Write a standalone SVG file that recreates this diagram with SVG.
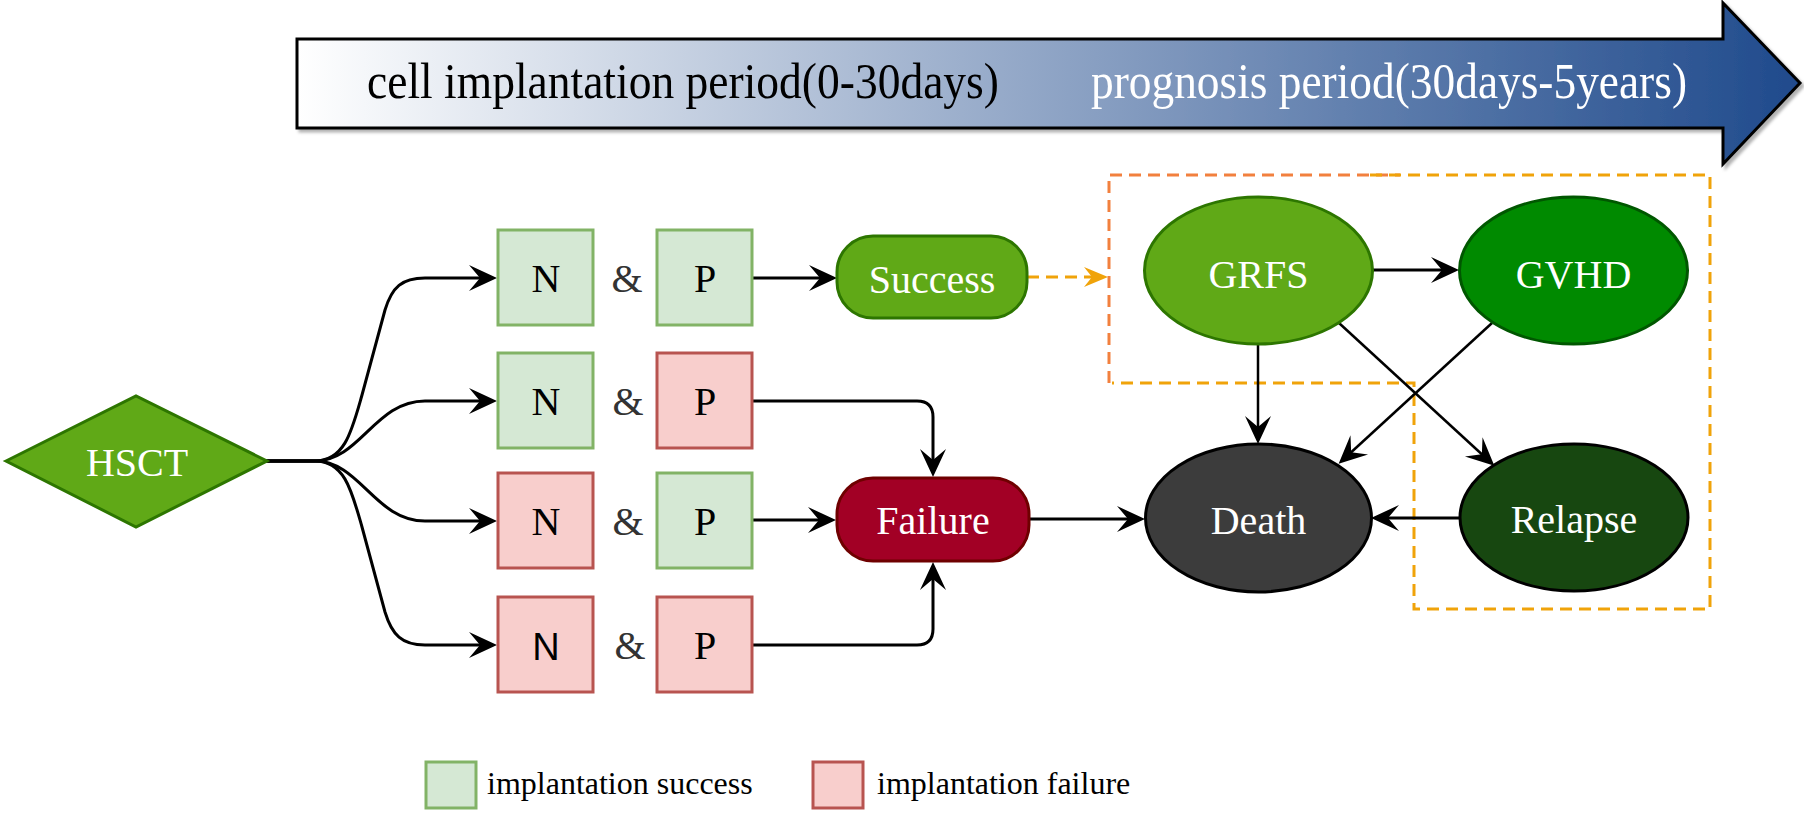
<svg xmlns="http://www.w3.org/2000/svg" width="1804" height="813" viewBox="0 0 1804 813">
  <style>
    .t { font-family: "Liberation Serif", "Times New Roman", serif; }
    .lbl { font-family: "Liberation Serif", "Times New Roman", serif; font-size: 40px; text-anchor: middle; }
    .w { fill: #ffffff; }
    .k { fill: #000000; }
    .ok { fill: #d5e8d4; stroke: #82b366; stroke-width: 3; }
    .ko { fill: #f8cecc; stroke: #b85450; stroke-width: 3; }
    .amp { font-family: "Liberation Serif", "Times New Roman", serif; font-size: 40px; fill: #333333; text-anchor: middle; }
    .e { fill: none; stroke: #000000; stroke-width: 3; marker-end: url(#arr); }
    .e2 { fill: none; stroke: #000000; stroke-width: 2.5; marker-end: url(#arr); }
    .fan { fill: none; stroke: #000000; stroke-width: 3; }
    .dash { fill: none; stroke-width: 3; stroke-dasharray: 12 7; }
  </style>
  <defs>
    <linearGradient id="bg" x1="0" y1="0" x2="1" y2="0">
      <stop offset="0" stop-color="#ffffff"/>
      <stop offset="1" stop-color="#1f4a8c"/>
    </linearGradient>
    <filter id="sh" x="-5%" y="-20%" width="110%" height="140%">
      <feDropShadow dx="3" dy="3" stdDeviation="1.5" flood-color="#000000" flood-opacity="0.3"/>
    </filter>
    <marker id="arr" markerUnits="userSpaceOnUse" viewBox="-20 -15 32 30" markerWidth="32" markerHeight="30" refX="0" refY="0" orient="auto" overflow="visible">
      <path d="M10,0 L-18,-13 L-7,0 L-18,13 Z" fill="#000000"/>
    </marker>
    <marker id="arrA" markerUnits="userSpaceOnUse" viewBox="-20 -15 32 30" markerWidth="32" markerHeight="30" refX="0" refY="0" orient="auto" overflow="visible">
      <path d="M6,0 L-18,-10 L-10,0 L-18,10 Z" fill="#f0a30a"/>
    </marker>
  </defs>

  <rect x="0" y="0" width="1804" height="813" fill="#ffffff"/>

  <!-- Timeline banner -->
  <g id="timeline" filter="url(#sh)">
    <path d="M297,39 H1723 V3 L1800,83 L1723,164 V128 H297 Z" fill="url(#bg)" stroke="#000000" stroke-width="3" stroke-linejoin="miter"/>
    <text class="t" x="367" y="98" font-size="50" textLength="632" lengthAdjust="spacingAndGlyphs" fill="#000000">cell implantation period(0-30days)</text>
    <text class="t" x="1091" y="98" font-size="50" textLength="596" lengthAdjust="spacingAndGlyphs" fill="#ffffff">prognosis period(30days-5years)</text>
  </g>

  <!-- Dashed grouping boxes -->
  <g id="groups">
    <path class="dash" stroke="#f2803e" d="M1109,383 V175 H1400"/>
    <path class="dash" stroke="#f0a30a" d="M1370,175 H1710 V609 H1414 V383 H1112"/>
  </g>

  <!-- Connectors -->
  <g id="connectors">
    <path class="fan" d="M266,461 H315 C345,461 352,430 362,395 L385,310 C392,287 402,278 425,278 H487" marker-end="url(#arr)"/>
    <path class="fan" d="M266,461 H315 C360,461 375,401 425,401 H487" marker-end="url(#arr)"/>
    <path class="fan" d="M266,461 H315 C360,461 375,521 425,521 H487" marker-end="url(#arr)"/>
    <path class="fan" d="M266,461 H315 C345,461 352,492 362,527 L385,612 C392,635 402,645 425,645 H487" marker-end="url(#arr)"/>
    <path class="e" d="M752,278 H827"/>
    <path class="e" d="M752,401 H917 Q933,401 933,417 V467"/>
    <path class="e" d="M752,520 H826"/>
    <path class="e" d="M752,645 H917 Q933,645 933,629 V572"/>
    <path class="e" d="M1029,519 H1135"/>
    <path class="dash" stroke="#f0a30a" d="M1027,277 H1102" marker-end="url(#arrA)"/>
    <path class="e" d="M1373,270 H1449"/>
    <path class="e2" d="M1258,344 V434"/>
    <path class="e2" d="M1339,323 L1487,459"/>
    <path class="e2" d="M1492,323 L1346,457"/>
    <path class="e" d="M1460,518 H1381"/>
  </g>

  <!-- Nodes -->
  <g id="hsct">
    <polygon points="6,461 136,396 267,461 136,527" fill="#60a917" stroke="#2d7600" stroke-width="3"/>
    <text class="lbl w" x="137" y="476">HSCT</text>
  </g>

  <g id="row1">
    <rect class="ok" x="498" y="230" width="95" height="95"/>
    <text class="lbl k" x="546" y="292">N</text>
    <text class="amp" x="627" y="292">&amp;</text>
    <rect class="ok" x="657" y="230" width="95" height="95"/>
    <text class="lbl k" x="705" y="292">P</text>
  </g>
  <g id="row2">
    <rect class="ok" x="498" y="353" width="95" height="95"/>
    <text class="lbl k" x="546" y="415">N</text>
    <text class="amp" x="628" y="415">&amp;</text>
    <rect class="ko" x="657" y="353" width="95" height="95"/>
    <text class="lbl k" x="705" y="415">P</text>
  </g>
  <g id="row3">
    <rect class="ko" x="498" y="473" width="95" height="95"/>
    <text class="lbl k" x="546" y="535">N</text>
    <text class="amp" x="628" y="535">&amp;</text>
    <rect class="ok" x="657" y="473" width="95" height="95"/>
    <text class="lbl k" x="705" y="535">P</text>
  </g>
  <g id="row4">
    <rect class="ko" x="498" y="597" width="95" height="95"/>
    <text x="546" y="660" font-family="'Liberation Sans', Arial, sans-serif" font-size="38" text-anchor="middle" fill="#000000">N</text>
    <text class="amp" x="630" y="659">&amp;</text>
    <rect class="ko" x="657" y="597" width="95" height="95"/>
    <text class="lbl k" x="705" y="659">P</text>
  </g>

  <g id="success">
    <rect x="837" y="236" width="190" height="82" rx="36" ry="36" fill="#60a917" stroke="#2d7600" stroke-width="3"/>
    <text class="lbl w" x="932" y="293" font-size="42">Success</text>
  </g>
  <g id="failure">
    <rect x="837" y="478" width="192" height="83" rx="36" ry="36" fill="#a20025" stroke="#6f0000" stroke-width="3"/>
    <text class="lbl w" x="933" y="534" font-size="42">Failure</text>
  </g>

  <g id="grfs">
    <ellipse cx="1258.5" cy="270.5" rx="114" ry="73.5" fill="#60a917" stroke="#2d7600" stroke-width="3"/>
    <text class="lbl w" x="1258.5" y="288">GRFS</text>
  </g>
  <g id="gvhd">
    <ellipse cx="1573.5" cy="270.5" rx="114" ry="73.5" fill="#008a00" stroke="#005700" stroke-width="3"/>
    <text class="lbl w" x="1573.5" y="288">GVHD</text>
  </g>
  <g id="death">
    <ellipse cx="1258.5" cy="518" rx="113" ry="74" fill="#3c3c3c" stroke="#000000" stroke-width="3"/>
    <text class="lbl w" x="1258.5" y="534">Death</text>
  </g>
  <g id="relapse">
    <ellipse cx="1574" cy="517.5" rx="114" ry="73.5" fill="#174710" stroke="#000000" stroke-width="3"/>
    <text class="lbl w" x="1574" y="533">Relapse</text>
  </g>

  <!-- Legend -->
  <g id="legend">
    <rect class="ok" x="426" y="762" width="50" height="46"/>
    <text class="t" x="487" y="794" font-size="32" fill="#000000">implantation success</text>
    <rect class="ko" x="813" y="762" width="50" height="46"/>
    <text class="t" x="877" y="794" font-size="32" fill="#000000">implantation failure</text>
  </g>
</svg>
